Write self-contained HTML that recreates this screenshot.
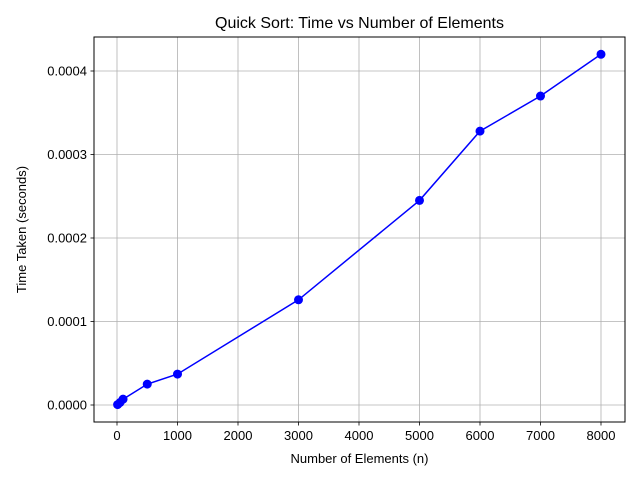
<!DOCTYPE html>
<html><head><meta charset="utf-8"><style>
body{margin:0;background:#fff;}
svg{display:block;font-family:"Liberation Sans","DejaVu Sans",sans-serif;}
</style></head><body>
<svg id="chart" width="640" height="480">
<rect width="640" height="480" fill="#fff"/>
<g id="grid"></g>
<g id="ticks"></g>
<rect x="94" y="37" width="531" height="385" fill="none" stroke="#000" stroke-width="1"/>
<g id="series"></g>
<text x="359.5" y="28" text-anchor="middle" font-size="16">Quick Sort: Time vs Number of Elements</text>
<text x="359.5" y="463" text-anchor="middle" font-size="13">Number of Elements (n)</text>
<text transform="translate(26,229.5) rotate(-90)" text-anchor="middle" font-size="13">Time Taken (seconds)</text>
</svg>
<script>
const sizes=[10,50,100,500,1000,3000,5000,6000,7000,8000];
const times=[0.0000005,0.000003,0.000007,0.000025,0.000037,0.000126,0.000245,0.000328,0.00037,0.00042];
const xTicks=[0,1000,2000,3000,4000,5000,6000,7000,8000];
const yTicks=[0,0.0001,0.0002,0.0003,0.0004];
const yTickLabels=["0.0000","0.0001","0.0002","0.0003","0.0004"];
const NS="http://www.w3.org/2000/svg";
function xs(v){return 117+v*(601-117)/8000;}
function ys(v){return 405-v*(405-71)/0.0004;}
function mk(tag,attrs,parent){const e=document.createElementNS(NS,tag);for(const k in attrs)e.setAttribute(k,attrs[k]);parent.appendChild(e);return e;}
const grid=document.getElementById('grid'),ticks=document.getElementById('ticks'),series=document.getElementById('series');
xTicks.forEach(t=>{const x=xs(t);
 const g=mk('line',{x1:x,x2:x,y1:37,y2:422,stroke:'#b0b0b0','stroke-width':0.8},grid);
 
 
 mk('line',{x1:x,x2:x,y1:422,y2:425.5,stroke:'#000','stroke-width':0.8},ticks);
 const l=mk('text',{x:x,y:440,'text-anchor':'middle','font-size':13},ticks);l.textContent=t;
 
 });
yTicks.forEach((t,i)=>{const y=ys(t);
 const g=mk('line',{x1:94,x2:625,y1:y,y2:y,stroke:'#b0b0b0','stroke-width':0.8},grid);
 
 
 mk('line',{x1:90.5,x2:94,y1:y,y2:y,stroke:'#000','stroke-width':0.8},ticks);
 const l=mk('text',{x:87,y:y+4.5,'text-anchor':'end','font-size':13},ticks);l.textContent=yTickLabels[i];
 
 });
const pts=sizes.map((s,i)=>xs(s)+','+ys(times[i])).join(' ');
const pl=mk('polyline',{points:pts,fill:'none',stroke:'#0000ff','stroke-width':1.5},series);


sizes.forEach((s,i)=>{const c=mk('circle',{cx:xs(s),cy:ys(times[i]),r:4.5,fill:'#0000ff'},series);
 
 });
</script>
</body></html>
